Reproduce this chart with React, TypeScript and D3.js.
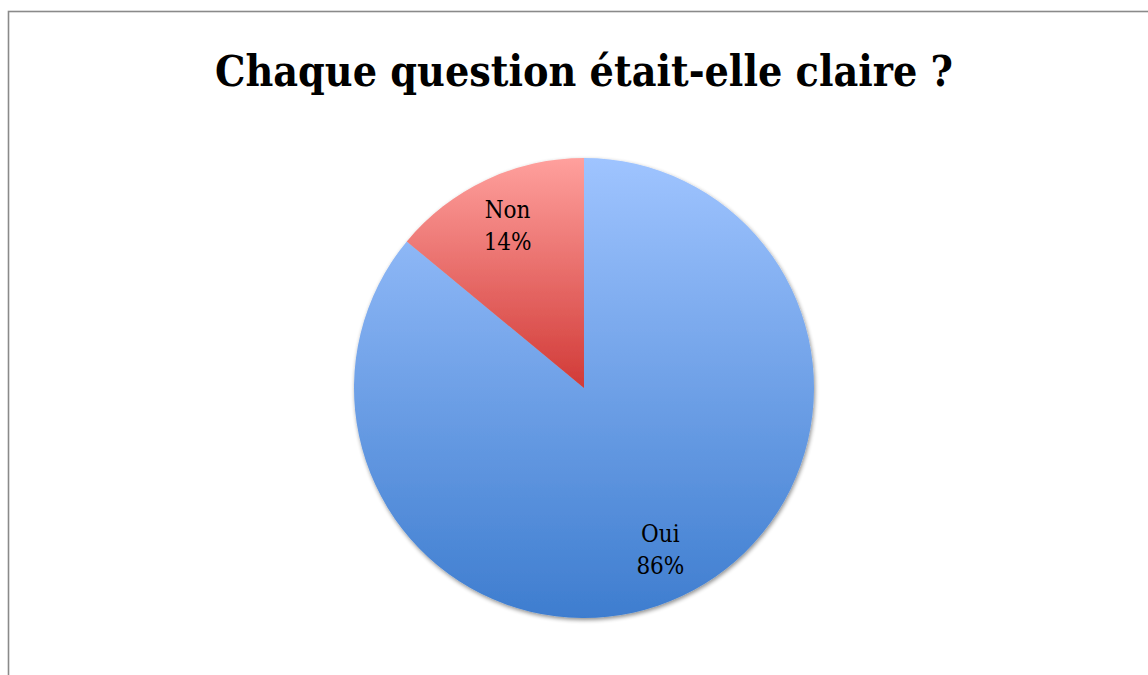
import React from "react";
import * as d3 from "d3";

const title = "Chaque question était-elle claire ?";
const categories = ["Oui", "Non"];
const values = [86, 14];
const topColors = ["#9fc4ff", "#ffa09d"];
const bottomColors = ["#3e7dcf", "#d13a37"];

export default function App() {
  const W = 1148, H = 675;
  const cx = 584, cy = 388, R = 230;
  const pie = d3.pie<number>().sort(null).value((d) => d)(values);
  const arc = d3.arc<d3.PieArcDatum<number>>().innerRadius(0).outerRadius(R);
  const labelArc = d3.arc<d3.PieArcDatum<number>>().innerRadius(R * 0.78).outerRadius(R * 0.78);
  const total = d3.sum(values);
  const font = "'DejaVu Serif', serif";
  return (
    <svg width={W} height={H} style={{ position: "absolute", left: 0, top: 0, background: "#fff" }}>
      <defs>
        {categories.map((c, i) => (
          <linearGradient key={c} id={`g${i}`} x1="0" y1="0" x2="0" y2="1">
            <stop offset="0" stopColor={topColors[i]} />
            <stop offset="1" stopColor={bottomColors[i]} />
          </linearGradient>
        ))}
        <filter id="sh" x="-10%" y="-10%" width="120%" height="120%">
          <feGaussianBlur in="SourceAlpha" stdDeviation="2" />
          <feOffset dx="1" dy="2" result="b" />
          <feComponentTransfer><feFuncA type="linear" slope="0.45" /></feComponentTransfer>
          <feMerge><feMergeNode /><feMergeNode in="SourceGraphic" /></feMerge>
        </filter>
      </defs>
      <rect x={8.5} y={11.5} width={W + 20} height={H + 20} fill="#fff" stroke="#8a8a8a" strokeWidth={1.6} />
      <text x={cx} y={86} textAnchor="middle" fontFamily={font} fontStretch="condensed" fontWeight="bold" fontSize={42} fill="#000" textLength={738} lengthAdjust="spacingAndGlyphs">{title}</text>
      <g transform={`translate(${cx},${cy})`}>
        <g filter="url(#sh)">
          {pie.map((p, i) => (
            <path key={categories[i]} d={arc(p) || ""} fill={`url(#g${i})`} />
          ))}
        </g>
        {pie.map((p, i) => {
          const [lx, ly] = labelArc.centroid(p);
          return (
            <text key={categories[i]} x={lx} y={ly} textAnchor="middle" fontFamily={font} fontStretch="condensed" fontSize={24} fill="#000">
              <tspan x={lx} dy={-8}>{categories[i]}</tspan>
              <tspan x={lx} dy={32}>{Math.round((values[i] / total) * 100)}%</tspan>
            </text>
          );
        })}
      </g>
    </svg>
  );
}
